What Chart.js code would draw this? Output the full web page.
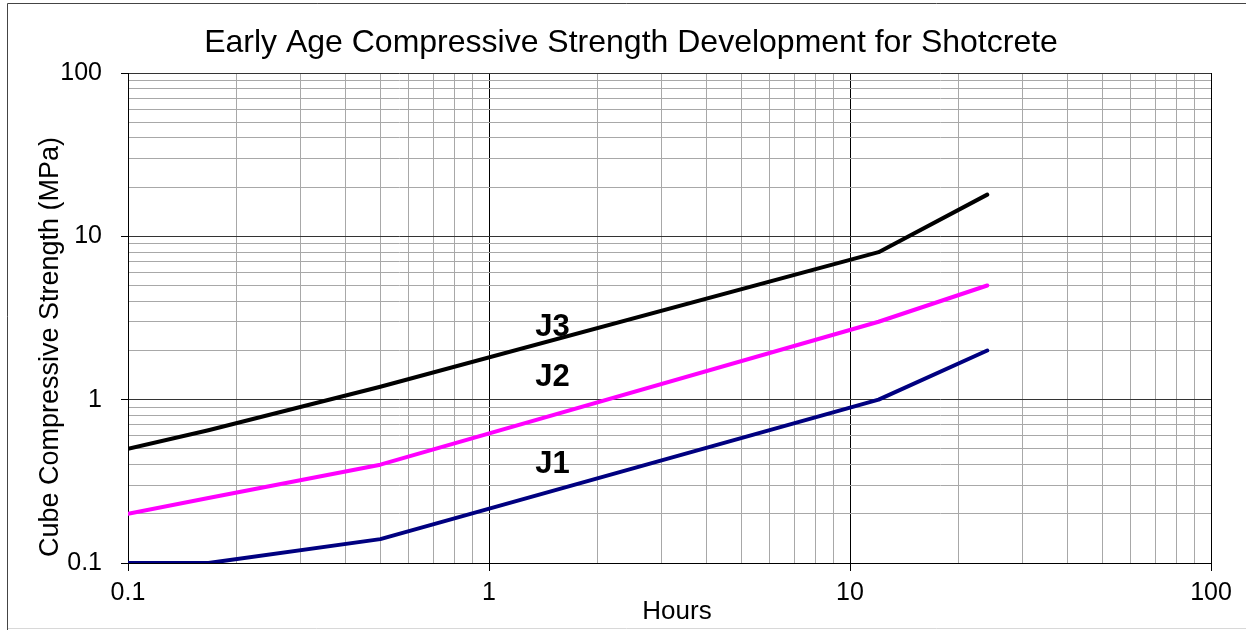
<!DOCTYPE html>
<html>
<head>
<meta charset="utf-8">
<script src="https://cdn.jsdelivr.net/npm/chart.js@4.4.0/dist/chart.umd.min.js"></script>
<style>
  html, body { margin: 0; padding: 0; background: #fff; }
  #wrap { width: 1246px; height: 630px; }
</style>
</head>
<body>
<div id="wrap"><canvas id="myChart" width="1246" height="630"></canvas></div>
<script>
// data
const hours = [0.1, 0.167, 0.5, 12, 24]
const j1 = [0.1, 0.1, 0.14, 1, 2]
const j2 = [0.2, 0.25, 0.4, 3, 5]
const j3 = [0.5, 0.65, 1.2, 8, 18]

const seriesNames = ['J1', 'J2', 'J3']
const seriesColors = ['#000080', '#ff00ff', '#000000']
// where the J labels sit, in data units
const labelHours = [1.5, 1.5, 1.5]
const labelStrength = [0.4, 1.36, 2.75]

const decades = [0.1, 1, 10, 100]
const tickLabels = ['0.1', '1', '10', '100']

const chartTitle = 'Early Age Compressive Strength Development for Shotcrete'
const xTitle = 'Hours'
const yTitle = 'Cube Compressive Strength (MPa)'

const font = "'Liberation Sans', Arial, sans-serif"

// 1..9 in every decade, plus the top one
function logTicks () {
  let t = []
  for (let d = 0; d < decades.length - 1; d++) {
    for (let m = 1; m < 10; m++) {
      t.push({ value: +(decades[d] * m).toPrecision(6) })
    }
  }
  t.push({ value: decades[decades.length - 1] })
  return t
}

function isMajor (v) {
  return decades.indexOf(v) !== -1
}

function tickLabel (v) {
  let i = decades.indexOf(v)
  return i === -1 ? '' : tickLabels[i]
}

const frame = {
  id: 'frame',
  beforeDraw (chart) {
    const ctx = chart.ctx
    ctx.save()
    ctx.fillStyle = '#fff'
    ctx.fillRect(0, 0, chart.width, chart.height)
    ctx.strokeStyle = '#d8d8d8'
    ctx.lineWidth = 1
    ctx.beginPath()
    ctx.moveTo(7, 628.5)
    ctx.lineTo(chart.width, 628.5)
    ctx.stroke()
    ctx.strokeStyle = '#444'
    ctx.beginPath()
    ctx.moveTo(7.5, chart.height)
    ctx.lineTo(7.5, 3.5)
    ctx.lineTo(chart.width, 3.5)
    ctx.stroke()
    ctx.restore()
  }
}

const texts = {
  id: 'texts',
  afterDatasetsDraw (chart) {
    const ctx = chart.ctx
    const x = chart.scales.x
    const y = chart.scales.y
    ctx.save()
    ctx.fillStyle = '#000'
    ctx.textAlign = 'center'
    ctx.textBaseline = 'middle'

    ctx.font = 'bold 31px ' + font
    seriesNames.forEach((name, i) => {
      ctx.fillText(name, x.getPixelForValue(labelHours[i]), y.getPixelForValue(labelStrength[i]))
    })

    ctx.font = '32px ' + font
    ctx.fillText(chartTitle, 631, 43)

    ctx.font = '26px ' + font
    ctx.fillText(xTitle, 677, 612)

    // y title sits a bit below the middle like in the original
    ctx.font = '27px ' + font
    ctx.translate(chart.chartArea.left - 77, 347)
    ctx.rotate(-Math.PI / 2)
    ctx.fillText(yTitle, 0, 0)
    ctx.restore()
  }
}

const series = [j1, j2, j3]

new Chart(document.getElementById('myChart').getContext('2d'), {
  type: 'line',
  data: {
    datasets: series.map((vals, i) => ({
      label: seriesNames[i],
      data: hours.map((h, k) => ({ x: h, y: vals[k] })),
      borderColor: seriesColors[i],
      borderWidth: 4,
      borderCapStyle: 'round',
      borderJoinStyle: 'round',
      pointRadius: 0,
      tension: 0,
      fill: false
    }))
  },
  options: {
    responsive: false,
    animation: false,
    layout: { padding: { left: 0, right: 35, top: 73, bottom: 0 } },
    plugins: {
      legend: { display: false },
      tooltip: { enabled: false },
      title: { display: false }
    },
    scales: {
      x: {
        type: 'logarithmic',
        min: 0.1,
        max: 100,
        afterBuildTicks: s => { s.ticks = logTicks() },
        afterFit: s => { s.height = 67 },
        border: { color: '#000', width: 1 },
        grid: {
          color: c => isMajor(c.tick.value) ? '#000' : '#a8a8a8',
          lineWidth: 1,
          tickLength: 8,
          tickColor: c => isMajor(c.tick.value) ? '#000' : 'rgba(0,0,0,0)'
        },
        ticks: {
          autoSkip: false,
          maxRotation: 0,
          padding: 7,
          color: '#000',
          font: { family: font, size: 25 },
          callback: v => tickLabel(v)
        }
      },
      y: {
        type: 'logarithmic',
        min: 0.1,
        max: 100,
        afterBuildTicks: s => { s.ticks = logTicks() },
        afterFit: s => { s.width = 128 },
        border: { color: '#000', width: 1 },
        grid: {
          color: c => isMajor(c.tick.value) ? '#333' : '#a8a8a8',
          lineWidth: 1,
          tickLength: 7,
          tickColor: c => isMajor(c.tick.value) ? '#000' : 'rgba(0,0,0,0)'
        },
        ticks: {
          autoSkip: false,
          padding: 19,
          color: '#000',
          font: { family: font, size: 25 },
          callback: v => tickLabel(v)
        }
      }
    }
  },
  plugins: [frame, texts]
})
</script>
</body>
</html>
